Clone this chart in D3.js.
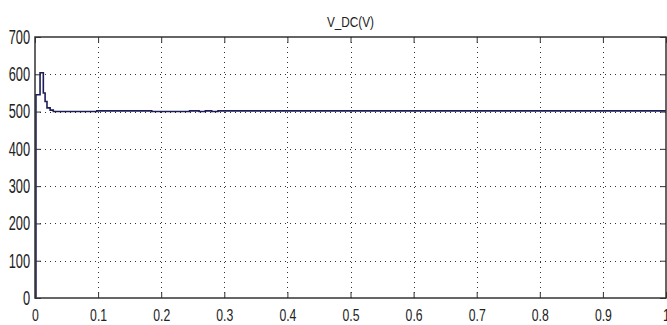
<!DOCTYPE html>
<html>
<head>
<meta charset="utf-8">
<script src="https://cdn.jsdelivr.net/npm/d3@7"></script>
<style>
  html, body { margin: 0; padding: 0; background: #fff; }
  svg { display: block; }
  text { font-family: "Liberation Sans", Arial, sans-serif; fill: #222; }
</style>
</head>
<body>
<svg id="chart"></svg>
<script>
// V_DC(V) step response
const times = [0, 0.0015, 0.0015, 0.008, 0.008, 0.0132, 0.0132, 0.016, 0.016, 0.019, 0.019, 0.024, 0.024, 0.029, 0.029,
  0.098, 0.098, 0.185, 0.185, 0.245, 0.245, 0.26, 0.26, 0.27, 0.27, 0.28, 0.28, 0.29, 0.29, 1.0];
const volts = [0, 0, 545, 545, 604, 604, 550, 550, 527, 527, 510, 510, 504, 504, 500,
  500, 502, 502, 500, 500, 502, 502, 500, 500, 502, 502, 500, 500, 502, 502];
const xTicks = [0, 0.1, 0.2, 0.3, 0.4, 0.5, 0.6, 0.7, 0.8, 0.9, 1];
const yTicks = [0, 100, 200, 300, 400, 500, 600, 700];
const title = 'V_DC(V)';

const width = 667, height = 325;
const margin = { top: 37, right: 1, bottom: 27, left: 35 };
const innerW = width - margin.left - margin.right;
const innerH = height - margin.top - margin.bottom;
// the reference text is tall and narrow
const xSqueeze = 0.72, ySqueeze = 0.64, tSqueeze = 0.76;

const svg = d3.select('#chart').attr('width', width).attr('height', height);

const x = d3.scaleLinear().domain([0, 1]).range([margin.left, margin.left + innerW]);
const y = d3.scaleLinear().domain([0, 700]).range([margin.top + innerH, margin.top]);

// grid (dotted)
const grid = svg.append('g').attr('stroke', '#333').attr('stroke-width', 1).attr('stroke-dasharray', '1,4');
grid.selectAll('line.gx')
  .data(xTicks.filter(d => d > 0 && d < 1))
  .join('line')
  .attr('x1', d => Math.round(x(d)) + 0.5).attr('x2', d => Math.round(x(d)) + 0.5)
  .attr('y1', y(700)).attr('y2', y(0));
grid.selectAll('line.gy')
  .data(yTicks.filter(d => d > 0 && d < 700))
  .join('line')
  .attr('y1', d => Math.round(y(d)) + 0.5).attr('y2', d => Math.round(y(d)) + 0.5)
  .attr('x1', x(0)).attr('x2', x(1));

// data line
const data = times.map((t, i) => ({ t, v: volts[i] }));
svg.append('path')
  .datum(data)
  .attr('fill', 'none')
  .attr('stroke', '#1d1d58')
  .attr('stroke-width', 1.6)
  .attr('d', d3.line().x(d => x(d.t)).y(d => y(d.v)));

// axes (MATLAB style inward ticks)
const tick = 6;
svg.append('g')
  .attr('class', 'xaxis')
  .attr('transform', `translate(0,${y(0)})`)
  .call(d3.axisBottom(x).tickValues(xTicks).tickSizeInner(-tick).tickSizeOuter(0)
    .tickFormat(d => (d === 0 || d === 1) ? String(d) : d3.format('.1f')(d)))
  .call(g => g.select('.domain').remove());
svg.append('g')
  .attr('class', 'yaxis')
  .attr('transform', `translate(${x(0)},0)`)
  .call(d3.axisLeft(y).tickValues(yTicks).tickSizeInner(-tick).tickSizeOuter(0))
  .call(g => g.select('.domain').remove());
svg.append('g')
  .attr('transform', `translate(0,${y(700)})`)
  .call(d3.axisTop(x).tickValues(xTicks).tickSizeInner(-tick).tickSizeOuter(0).tickFormat(''))
  .call(g => g.select('.domain').remove());
svg.append('g')
  .attr('transform', `translate(${x(1)},0)`)
  .call(d3.axisRight(y).tickValues(yTicks).tickSizeInner(-tick).tickSizeOuter(0).tickFormat(''))
  .call(g => g.select('.domain').remove());

svg.selectAll('.tick line').attr('stroke', '#333');
svg.selectAll('.tick text').attr('fill', '#222')
  .attr('font-family', '"Liberation Sans", Arial, sans-serif');
svg.selectAll('.xaxis .tick text')
  .attr('font-size', 17)
  .attr('y', 23).attr('dy', 0)
  .attr('transform', `scale(${xSqueeze},1)`);
svg.selectAll('.yaxis .tick text')
  .attr('font-size', 20)
  .attr('x', -5 / ySqueeze)
  .attr('transform', `scale(${ySqueeze},1)`);

// box
svg.append('rect')
  .attr('x', x(0)).attr('y', y(700))
  .attr('width', x(1) - x(0)).attr('height', y(0) - y(700))
  .attr('fill', 'none').attr('stroke', '#333').attr('stroke-width', 1.5);

svg.append('g')
  .attr('transform', `translate(${(x(0) + x(1)) / 2},27) scale(${tSqueeze},1)`)
  .append('text')
  .attr('text-anchor', 'middle')
  .attr('font-size', 15.5)
  .text(title);
</script>
</body>
</html>
